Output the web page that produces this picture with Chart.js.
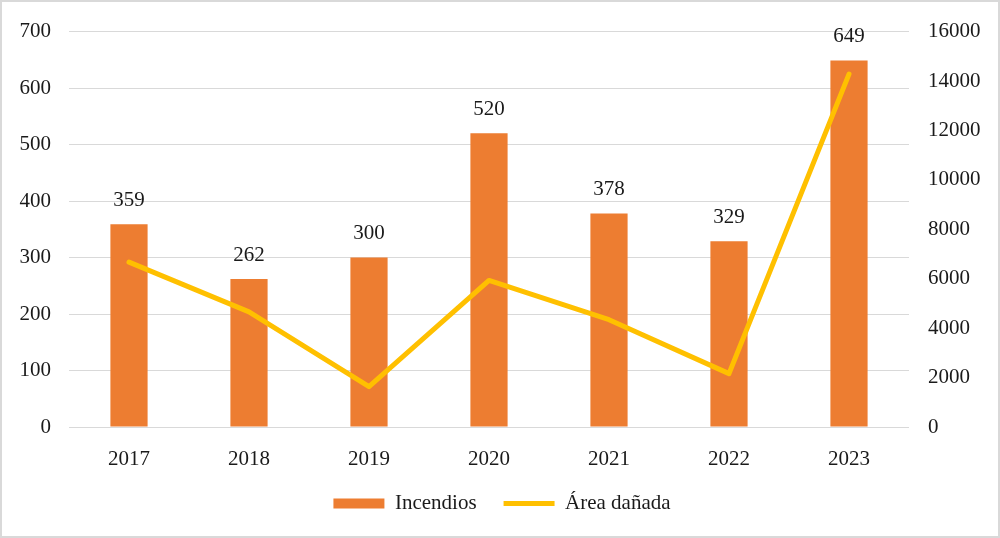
<!DOCTYPE html>
<html>
<head>
<meta charset="utf-8">
<script src="https://cdn.jsdelivr.net/npm/chart.js@4"></script>
<style>
  html, body { margin: 0; padding: 0; background: #fff; }
  #wrap { width: 1000px; height: 538px; }
</style>
</head>
<body>
<div id="wrap"><canvas id="chart" width="1000" height="538"></canvas></div>
<script>
const years = ['2017', '2018', '2019', '2020', '2021', '2022', '2023'];
const incendios = [359, 262, 300, 520, 378, 329, 649];
const areaDanada = [6670, 4660, 1630, 5930, 4340, 2160, 14280];

const FONT = "'Liberation Serif', 'Times New Roman', serif";
const TEXT = '#1a1a1a';
const FS = 21;

// white background + light grey frame
const framePlugin = {
  id: 'frame',
  beforeDraw(chart) {
    const c = chart.ctx;
    c.save();
    c.fillStyle = '#fff';
    c.fillRect(0, 0, chart.width, chart.height);
    c.strokeStyle = '#d9d9d9';
    c.lineWidth = 2;
    c.strokeRect(1, 1, chart.width - 2, chart.height - 2);
    c.restore();
  }
};

// value labels above the bars
const barLabels = {
  id: 'barLabels',
  afterDatasetsDraw(chart) {
    const c = chart.ctx;
    const meta = chart.getDatasetMeta(0);
    c.save();
    c.font = FS + 'px ' + FONT;
    c.fillStyle = TEXT;
    c.textAlign = 'center';
    c.textBaseline = 'middle';
    meta.data.forEach((bar, i) => {
      c.fillText(String(incendios[i]), bar.x, bar.y - 24);
    });
    c.restore();
  }
};

new Chart(document.getElementById('chart'), {
  data: {
    labels: years,
    datasets: [
      {
        type: 'bar',
        label: 'Incendios',
        data: incendios,
        backgroundColor: '#ED7D31',
        pointStyle: 'rect',
        yAxisID: 'y',
        barPercentage: 0.31,
        categoryPercentage: 1,
        order: 1
      },
      {
        type: 'line',
        label: 'Área dañada',
        data: areaDanada,
        borderColor: '#FFC000',
        backgroundColor: '#FFC000',
        borderWidth: 5,
        borderCapStyle: 'round',
        borderJoinStyle: 'round',
        pointStyle: 'line',
        pointRadius: 0,
        tension: 0,
        yAxisID: 'y1',
        order: 0
      }
    ]
  },
  options: {
    responsive: false,
    animation: false,
    layout: { padding: { top: 30, left: 4, right: 0, bottom: 14 } },
    scales: {
      x: {
        grid: { display: false },
        border: { display: false },
        ticks: { color: TEXT, font: { family: FONT, size: FS }, padding: 12 },
        afterFit: s => { s.height = 39; }
      },
      y: {
        position: 'left',
        min: 0, max: 700,
        ticks: { stepSize: 100, color: TEXT, font: { family: FONT, size: FS }, padding: 18 },
        grid: { color: '#d9d9d9', lineWidth: 1, drawTicks: false },
        border: { display: false },
        afterFit: s => { s.width = 65; }
      },
      y1: {
        position: 'right',
        min: 0, max: 16000,
        ticks: {
          stepSize: 2000, color: TEXT, font: { family: FONT, size: FS }, padding: 19,
          callback: v => String(v)
        },
        grid: { display: false, drawTicks: false },
        border: { display: false },
        afterFit: s => { s.width = 91; }
      }
    },
    plugins: {
      tooltip: { enabled: false },
      legend: {
        position: 'bottom',
        labels: {
          color: TEXT,
          font: { family: FONT, size: FS },
          usePointStyle: true,
          pointStyleWidth: 51,
          boxHeight: 10,
          padding: 27,
          sort: (a, b) => a.datasetIndex - b.datasetIndex
        }
      }
    }
  },
  plugins: [framePlugin, barLabels]
});
</script>
</body>
</html>
